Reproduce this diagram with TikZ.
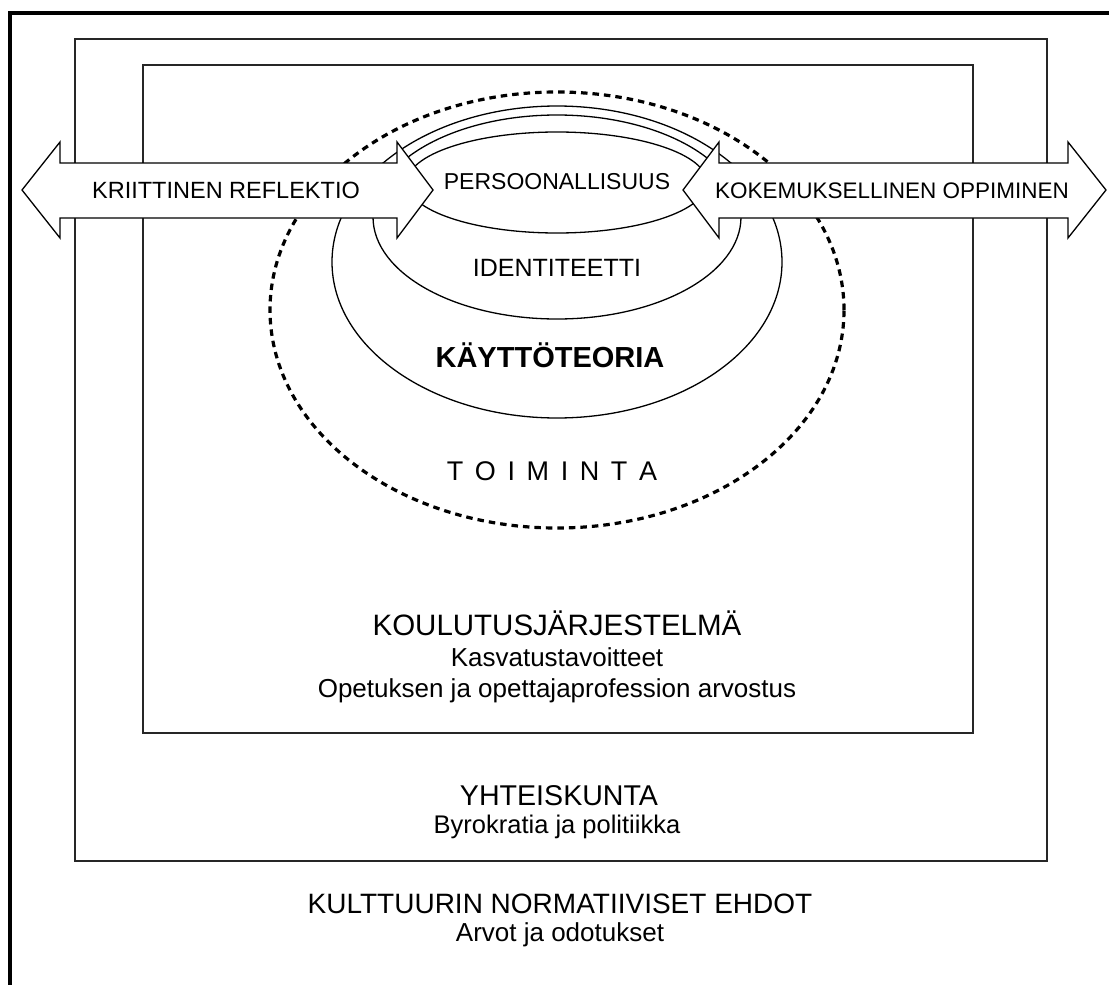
\documentclass[tikz,border=0pt]{standalone}
\usepackage{fontspec}
\setmainfont{Liberation Sans}
\usetikzlibrary{shapes.geometric}
\newcommand\fsz[1]{\fontsize{#1}{#1}\selectfont}
\tikzset{
  frame/.style={draw, line width=3.6pt},
  box/.style={draw, line width=1.6pt, draw=black!85},
  oval/.style={draw, ellipse, line width=1.3pt, inner sep=0pt, outer sep=0pt},
  dashoval/.style={draw, ellipse, line width=3.2pt, dash pattern=on 6.5pt off 5pt, inner sep=0pt, outer sep=0pt},
  band/.style={draw, fill=white, line width=1.3pt, line join=miter},
  lbl/.style={anchor=base, inner sep=0pt, text=black},
}
\begin{document}
\begin{tikzpicture}[x=1pt,y=-1pt]
\useasboundingbox (0,0) rectangle (1109,985);
\clip (0,0) rectangle (1109,985);
\fill[white] (0,0) rectangle (1109,985);
% frames
\draw[frame] (10,13) rectangle (1125,1000);
\draw[box] (75,39) rectangle (1047,861);
\draw[box] (143,65) rectangle (973,733);
% ellipses
\node[dashoval, minimum width=574pt, minimum height=436pt] (toim) at (557,310) {};
\node[oval, minimum width=450pt, minimum height=312pt] (kt) at (557,262) {};
\node[oval, minimum width=368pt, minimum height=204pt] (idn) at (557,217) {};
\node[oval, minimum width=300pt, minimum height=101pt] (pers) at (557,182.5) {};
% arrows
\draw[band] (22,190) -- (60,142) -- (60,163) -- (397,163) -- (397,142) -- (433,190)
  -- (397,238) -- (397,218) -- (60,218) -- (60,238) -- cycle;
\draw[band] (683,190) -- (719,142) -- (719,163) -- (1068,163) -- (1068,142) -- (1106,190)
  -- (1068,238) -- (1068,218) -- (719,218) -- (719,238) -- cycle;
% labels
\node[lbl, font=\fsz{23.5}] (krt) at (226,198) {KRIITTINEN REFLEKTIO};
\node[lbl, font=\fsz{22.5}] (kok) at (892,198) {KOKEMUKSELLINEN OPPIMINEN};
\node[lbl, font=\fsz{23}] (pet) at (557,189) {PERSOONALLISUUS};
\node[lbl, font=\fsz{25}] (idt) at (557,276) {IDENTITEETTI};
\node[lbl, font=\fsz{29}\bfseries] (ktt) at (550,367) {KÄYTTÖTEORIA};
\node[lbl, font=\fsz{27}] (tmt) at (552,480) {T\hspace{11.6pt}O\hspace{11.6pt}I\hspace{11.6pt}M\hspace{11.6pt}I\hspace{11.6pt}N\hspace{11.6pt}T\hspace{11.6pt}A};
\node[lbl, font=\fsz{29.5}] (kj) at (557,635) {KOULUTUSJÄRJESTELMÄ};
\node[lbl, font=\fsz{26}] (kv) at (557,666) {Kasvatustavoitteet};
\node[lbl, font=\fsz{26}] (op) at (557,697) {Opetuksen ja opettajaprofession arvostus};
\node[lbl, font=\fsz{28.6}] (yk) at (559,805) {YHTEISKUNTA};
\node[lbl, font=\fsz{25.5}] (bp) at (557,833) {Byrokratia ja politiikka};
\node[lbl, font=\fsz{28}] (kn) at (560,913) {KULTTUURIN NORMATIIVISET EHDOT};
\node[lbl, font=\fsz{26}] (ao) at (560,941) {Arvot ja odotukset};
\end{tikzpicture}
\end{document}
